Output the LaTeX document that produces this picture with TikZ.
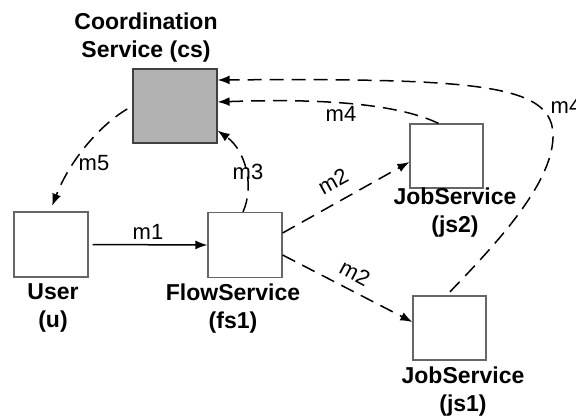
\documentclass[tikz,border=0pt]{standalone}
\usepackage{fontspec}
\setmainfont{Liberation Sans}
\usetikzlibrary{arrows.meta}
\tikzset{
  svcbox/.style={draw=black!60, line width=1.2pt, minimum width=74pt, minimum height=65pt, inner sep=0pt},
  csbox/.style={svcbox, draw=black!75, fill=black!30, minimum width=84pt, minimum height=74pt},
  svclabel/.style={font=\fontsize{23}{28}\selectfont\bfseries, align=center, inner sep=0pt},
  msglabel/.style={font=\fontsize{22}{26}\selectfont, inner sep=0pt},
  msg/.style={line width=1.5pt, -{Latex[length=12pt,width=9pt]}},
  asyncmsg/.style={msg, dash pattern=on 14pt off 8pt}
}
\begin{document}
\begin{tikzpicture}[x=1pt,y=-1pt]
  \useasboundingbox (0,0) rectangle (576,417);
  \clip (0,0) rectangle (576,417);

  % services
  \node[csbox]  (cs)  at (175,106)   {};
  \node[svcbox] (u)   at (51,244.5)  {};
  \node[svcbox] (fs)  at (245,245)   {};
  \node[svcbox, minimum width=73pt, minimum height=64pt] (js2) at (446.5,156) {};
  \node[svcbox, minimum width=73pt, minimum height=64pt] (js1) at (449.5,328) {};

  % service names
  \node[svclabel] (cslbl)  at (146,38)  {Coordination\\Service (cs)};
  \node[svclabel] (ulbl)   at (53,308)  {User\\(u)};
  \node[svclabel] (fslbl)  at (233,309) {FlowService\\(fs1)};
  \node[svclabel] (js2lbl) at (455,213) {JobService\\(js2)};
  \node[svclabel] (js1lbl) at (463,392) {JobService\\(js1)};

  % m1: user to flow service
  \draw[msg, shorten <=4pt] (u.east) -- (fs.west);
  \node[msglabel] (m1) at (148,232) {m1};

  % m2: flow service to both job services
  \draw[asyncmsg] ([yshift=12pt]fs.east) -- ([yshift=-6pt]js2.west);
  \node[msglabel, rotate=29] (m2a) at (333,181) {m2};
  \draw[asyncmsg] ([yshift=-10pt]fs.east) -- ([yshift=6pt]js1.west);
  \node[msglabel, rotate=-28] (m2b) at (355,273) {m2};

  % m3: flow service to coordination service
  \draw[asyncmsg] ([xshift=-2pt]fs.north) .. controls (255,185) and (245,150) .. ([yshift=13pt]cs.south east);
  \node[msglabel] (m3) at (248,172) {m3};

  % m4: job services report back to coordination service
  \draw[asyncmsg] ([xshift=-8pt]js2.north) .. controls (400,105) and (330,98) .. ([yshift=4pt]cs.east);
  \node[msglabel] (m4a) at (341,114) {m4};
  \draw[asyncmsg, shorten <=5pt] ([xshift=-3pt]js1.north) .. controls (500,240) and (555,180) .. (553,133)
        .. controls (550,85) and (480,78) .. ([yshift=26pt]cs.east);
  \node[msglabel] (m4b) at (566,106) {m4};

  % m5: coordination service to user
  \draw[asyncmsg, shorten <=6pt, shorten >=6pt] (cs.west) .. controls (100,125) and (70,160) .. ([xshift=-1pt]u.north);
  \node[msglabel] (m5) at (94,163) {m5};
\end{tikzpicture}
\end{document}
